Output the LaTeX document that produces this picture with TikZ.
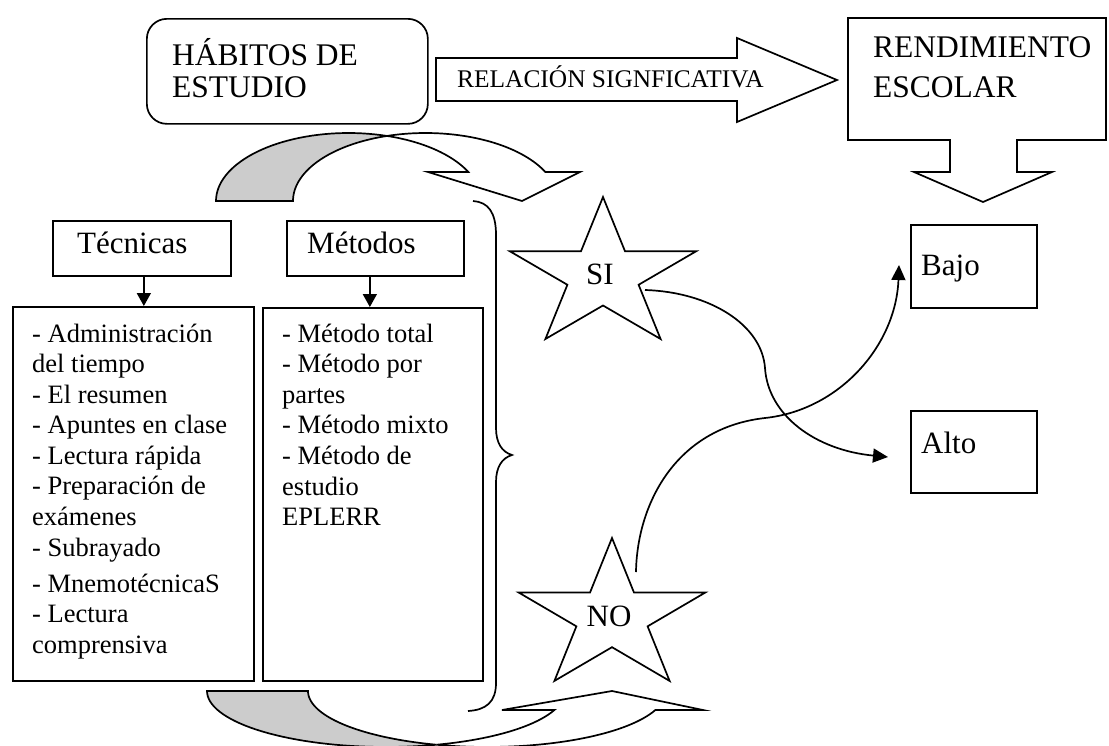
\documentclass[tikz,border=0pt]{standalone}
\usepackage{fontspec}
\setmainfont{Liberation Serif}
\usetikzlibrary{arrows.meta}
\begin{document}
\begin{tikzpicture}[x=1pt,y=-1pt,
  lw/.style={line width=1.7pt},
  box/.style={draw, line width=1.7pt, inner sep=0pt, anchor=north west},
  txt/.style={anchor=base west, inner sep=0pt},
  big/.style={txt, font=\fontsize{31.5}{33}\selectfont},
  ttl/.style={txt, font=\fontsize{31}{33}\selectfont},
  lst/.style={txt, font=\fontsize{26.5}{30}\selectfont},
  arw/.style={txt, font=\fontsize{25.4}{28}\selectfont},
  sym/.style={anchor=base, inner sep=0pt, font=\fontsize{31}{33}\selectfont},
  conn/.style={line width=1.7pt, -{Triangle[length=15pt,width=14pt]}},
  smallarr/.style={line width=1.7pt, -{Triangle[length=13pt,width=14pt]}},
]
\useasboundingbox[fill=white] (0,0) rectangle (1109,745);

% ---- HABITOS box
\node[box, rounded corners=20pt, minimum width=281pt, minimum height=105pt] (hab) at (146,18) {};
\node[big] (hab1) at (172,65) {HÁBITOS DE};
\node[big] (hab2) at (172,97) {ESTUDIO};

% ---- big right arrow
\draw[lw] (436,58) -- (737,58) -- (737,38) -- (837,80) -- (737,122) -- (737,101) -- (436,101) -- cycle;
\node[arw] (rel) at (457,87) {RELACIÓN SIGNFICATIVA};

% ---- RENDIMIENTO callout
\draw[lw] (848,18) -- (1106,18) -- (1106,140) -- (1017,140) -- (1017,172) -- (1052,172)
  -- (983,202) -- (914,172) -- (950,172) -- (950,140) -- (848,140) -- cycle;
\node[big] (ren1) at (873,57) {RENDIMIENTO};
\node[big] (ren2) at (873,97) {ESCOLAR};

% ---- top curved arrow
\filldraw[lw, fill=black!20]
  plot[domain=180:73.1, samples=40, variable=\t] ({348.5+132.5*cos(\t)},{201-68*sin(\t)})
  -- plot[domain=106.9:180, samples=40, variable=\t] ({425.5+132.5*cos(\t)},{201-68*sin(\t)})
  -- cycle;
\filldraw[lw, fill=white, line join=miter]
  plot[domain=106.9:25.2, samples=40, variable=\t] ({425.5+132.5*cos(\t)},{201-68*sin(\t)})
  -- (580,172) -- (522,201) -- (428,172)
  -- plot[domain=25.2:73.1, samples=40, variable=\t] ({348.5+132.5*cos(\t)},{201-68*sin(\t)})
  -- cycle;

% ---- bottom curved arrow
\filldraw[lw, fill=black!20]
  plot[domain=180:73.6, samples=40, variable=\t] ({386+179*cos(\t)},{691+56*sin(\t)})
  -- plot[domain=106.4:180, samples=40, variable=\t] ({487+179*cos(\t)},{691+56*sin(\t)})
  -- cycle;
\filldraw[lw, fill=white, line join=miter]
  plot[domain=106.4:19.8, samples=40, variable=\t] ({487+179*cos(\t)},{691+56*sin(\t)})
  -- (703,710) -- (612,691) -- (502,710)
  -- plot[domain=19.8:73.6, samples=40, variable=\t] ({386+179*cos(\t)},{691+56*sin(\t)})
  -- cycle;

% ---- brace
\draw[lw] (473,201) .. controls (488,202) and (496,212) .. (496,235) -- (496,428)
  .. controls (496,443) and (502,452) .. (512,455)
  .. controls (502,458) and (496,467) .. (496,482) -- (496,683)
  .. controls (496,702) and (486,710) .. (468,711);

% ---- Tecnicas / Metodos
\node[box, minimum width=178pt, minimum height=55pt] (tec) at (52,220) {};
\node[ttl] (tect) at (77,253) {Técnicas};
\node[box, minimum width=177pt, minimum height=55pt] (met) at (286,220) {};
\node[ttl] (mett) at (307,253) {Métodos};

\node[box, minimum width=241pt, minimum height=374pt] (teclist) at (12,306) {};
\node[box, minimum width=220pt, minimum height=373pt] (metlist) at (262,307) {};

\draw[smallarr] ([xshift=2pt]tec.south) -- ([xshift=2pt]tec.south |- teclist.north);
\draw[smallarr] ([xshift=-5.5pt]met.south) -- ([xshift=-5.5pt]met.south |- metlist.north);

\node[lst] (t1) at (32,342) {- Administración};
\node[lst] (t2) at (32,372) {del tiempo};
\node[lst] (t3) at (32,403) {- El resumen};
\node[lst] (t4) at (32,433) {- Apuntes en clase};
\node[lst] (t5) at (32,464) {- Lectura rápida};
\node[lst] (t6) at (32,494) {- Preparación de};
\node[lst] (t7) at (32,525) {exámenes};
\node[lst] (t8) at (32,556) {- Subrayado};
\node[lst] (t9) at (32,592) {- MnemotécnicaS};
\node[lst] (t10) at (32,622) {- Lectura};
\node[lst] (t11) at (32,653) {comprensiva};

\node[lst] (m1) at (282,342) {- Método total};
\node[lst] (m2) at (282,372) {- Método por};
\node[lst] (m3) at (282,403) {partes};
\node[lst] (m4) at (282,433) {- Método mixto};
\node[lst] (m5) at (282,464) {- Método de};
\node[lst] (m6) at (282,495) {estudio};
\node[lst] (m7) at (282,525) {EPLERR};

% ---- stars
\draw[lw, fill=white, line join=miter] plot[samples at={0,...,9}, variable=\k]
  ({603+98*(0.691+0.309*cos(180*\k))*cos(90+36*\k)}, {275.5-78.5*(0.691+0.309*cos(180*\k))*sin(90+36*\k)}) -- cycle;
\node[sym] (si) at (600,284) {SI};
\draw[lw, fill=white, line join=miter] plot[samples at={0,...,9}, variable=\k]
  ({612+98*(0.691+0.309*cos(180*\k))*cos(90+36*\k)}, {617-79*(0.691+0.309*cos(180*\k))*sin(90+36*\k)}) -- cycle;
\node[sym] (no) at (609,626) {NO};

% ---- Bajo / Alto
\node[box, minimum width=126pt, minimum height=83pt] (bajo) at (910,224) {};
\node[ttl] (bajot) at (921,275) {Bajo};
\node[box, minimum width=126pt, minimum height=82pt] (alto) at (910,410) {};
\node[ttl] (altot) at (921,453) {Alto};

% ---- connectors
\coordinate (siout) at (645,290);
\coordinate (noout) at (636,572);
\coordinate (altoend) at (888,457);
\coordinate (bajoend) at (899,265);
\draw[conn] (siout) .. controls (710,292) and (762,325) .. (765,368)
  .. controls (768,415) and (815,450) .. (altoend);
\draw[conn] (noout) .. controls (637,505) and (675,428) .. (765,418)
  .. controls (840,410) and (896,345) .. (bajoend);
\end{tikzpicture}
\end{document}
